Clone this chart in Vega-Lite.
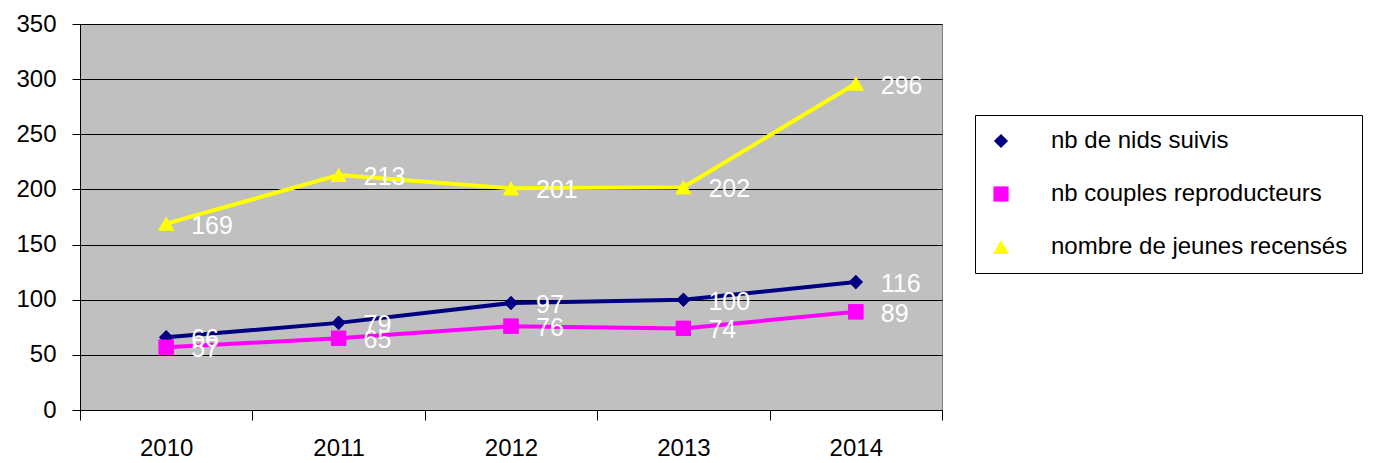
{
  "$schema": "https://vega.github.io/schema/vega-lite/v6.json",
  "width": 862,
  "height": 386,
  "autosize": {"type": "none"},
  "padding": {"left": 80, "top": 24, "right": 440, "bottom": 53},
  "background": "white",
  "config": {
    "view": {"fill": "#C0C0C0", "stroke": "#808080", "strokeWidth": 1},
    "font": "Liberation Sans"
  },
  "data": {
    "values": [
      {"annee": "2010", "serie": "nb de nids suivis", "valeur": 66},
      {"annee": "2011", "serie": "nb de nids suivis", "valeur": 79},
      {"annee": "2012", "serie": "nb de nids suivis", "valeur": 97},
      {"annee": "2013", "serie": "nb de nids suivis", "valeur": 100},
      {"annee": "2014", "serie": "nb de nids suivis", "valeur": 116},
      {"annee": "2010", "serie": "nb couples reproducteurs", "valeur": 57},
      {"annee": "2011", "serie": "nb couples reproducteurs", "valeur": 65},
      {"annee": "2012", "serie": "nb couples reproducteurs", "valeur": 76},
      {"annee": "2013", "serie": "nb couples reproducteurs", "valeur": 74},
      {"annee": "2014", "serie": "nb couples reproducteurs", "valeur": 89},
      {"annee": "2010", "serie": "nombre de jeunes recensés", "valeur": 169},
      {"annee": "2011", "serie": "nombre de jeunes recensés", "valeur": 213},
      {"annee": "2012", "serie": "nombre de jeunes recensés", "valeur": 201},
      {"annee": "2013", "serie": "nombre de jeunes recensés", "valeur": 202},
      {"annee": "2014", "serie": "nombre de jeunes recensés", "valeur": 296}
    ]
  },
  "encoding": {
    "x": {
      "field": "annee",
      "type": "ordinal",
      "scale": {"type": "band", "paddingInner": 0, "paddingOuter": 0},
      "axis": {
        "title": null,
        "labelAngle": 0,
        "tickBand": "extent",
        "tickSize": 10,
        "tickColor": "black",
        "domainColor": "black",
        "labelColor": "black",
        "labelFontSize": 24,
        "labelPadding": 16,
        "grid": false
      }
    },
    "y": {
      "field": "valeur",
      "type": "quantitative",
      "scale": {"domain": [0, 350], "nice": false, "zero": true},
      "axis": {
        "title": null,
        "values": [0, 50, 100, 150, 200, 250, 300, 350],
        "grid": true,
        "gridColor": "black",
        "gridOpacity": 1,
        "gridWidth": 1,
        "tickSize": 8,
        "tickColor": "black",
        "domainColor": "black",
        "labelColor": "black",
        "labelFontSize": 24,
        "labelPadding": 16
      }
    }
  },
  "layer": [
    {
      "mark": {"type": "point", "filled": true, "opacity": 1, "strokeWidth": 0},
      "encoding": {
        "shape": {
          "field": "serie",
          "type": "nominal",
          "scale": {
            "domain": ["nb de nids suivis", "nb couples reproducteurs", "nombre de jeunes recensés"],
            "range": ["diamond", "square", "triangle-up"]
          },
          "legend": null
        },
        "size": {
          "field": "serie",
          "type": "nominal",
          "scale": {
            "domain": ["nb de nids suivis", "nb couples reproducteurs", "nombre de jeunes recensés"],
            "range": [200, 260, 330]
          },
          "legend": null
        },
        "color": {
          "field": "serie",
          "type": "nominal",
          "scale": {
            "domain": ["nb de nids suivis", "nb couples reproducteurs", "nombre de jeunes recensés"],
            "range": ["#000080", "#FF00FF", "#FFFF00"]
          },
          "legend": {
            "title": null,
            "orient": "none",
            "legendX": 895,
            "legendY": 91,
            "padding": 14,
            "strokeColor": "black",
            "fillColor": "white",
            "symbolSize": 400,
            "symbolStrokeWidth": 0,
            "labelFontSize": 24,
            "labelColor": "black",
            "labelOffset": 38,
            "labelLimit": 400,
            "rowPadding": 29,
            "encode": {
              "symbols": {
                "opacity": {"value": 1},
                "shape": {
                  "value": {
                    "expr": "datum.value == 'nb de nids suivis' ? 'M-1,-0.15H4.4V0.15H-1Z M1.7,-0.7L2.4,0L1.7,0.7L1,0Z' : datum.value == 'nb couples reproducteurs' ? 'M-1,-0.15H4.4V0.15H-1Z M1.2,-0.5H2.2V0.5H1.2Z' : 'M-1,-0.15H4.4V0.15H-1Z M1.7,-0.6L2.3,0.45H1.1Z'"
                  }
                }
              }
            }
          }
        }
      }
    },
    {
      "mark": {"type": "line", "strokeWidth": 4},
      "encoding": {
        "color": {
          "field": "serie",
          "type": "nominal",
          "scale": {
            "domain": ["nb de nids suivis", "nb couples reproducteurs", "nombre de jeunes recensés"],
            "range": ["#000080", "#FF00FF", "#FFFF00"]
          }
        }
      }
    },
    {
      "mark": {"type": "point", "filled": true, "opacity": 1, "strokeWidth": 0},
      "encoding": {
        "shape": {
          "field": "serie",
          "type": "nominal",
          "scale": {
            "domain": ["nb de nids suivis", "nb couples reproducteurs", "nombre de jeunes recensés"],
            "range": ["diamond", "square", "triangle-up"]
          },
          "legend": null
        },
        "size": {
          "field": "serie",
          "type": "nominal",
          "scale": {
            "domain": ["nb de nids suivis", "nb couples reproducteurs", "nombre de jeunes recensés"],
            "range": [200, 260, 330]
          },
          "legend": null
        },
        "color": {
          "field": "serie",
          "type": "nominal",
          "scale": {
            "domain": ["nb de nids suivis", "nb couples reproducteurs", "nombre de jeunes recensés"],
            "range": ["#000080", "#FF00FF", "#FFFF00"]
          }
        }
      }
    },
    {
      "mark": {"type": "text", "align": "left", "baseline": "middle", "dx": 25, "dy": 2, "fontSize": 25, "color": "white"},
      "encoding": {
        "text": {"field": "valeur", "type": "quantitative"}
      }
    }
  ]
}
